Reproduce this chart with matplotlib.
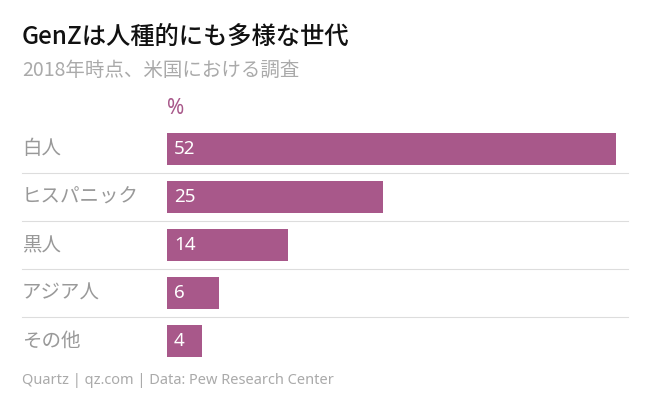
import matplotlib.pyplot as plt
from matplotlib.lines import Line2D

plt.rcParams['font.family'] = 'Noto Sans CJK JP'

categories = ['白人', 'ヒスパニック', '黒人', 'アジア人', 'その他']
values = [52, 25, 14, 6, 4]

W, H = 645, 405
fig = plt.figure(figsize=(W / 100, H / 100), dpi=100)
ax = fig.add_axes([167 / W, 1 - 365 / H, (616 - 167) / W, 240 / H])

bar_color = '#a8588a'
ax.barh(range(len(values)), values, height=0.67, color=bar_color)
ax.set_xlim(0, 52)
ax.set_ylim(len(values) - 0.5, -0.5)
ax.axis('off')

for i, (c, v) in enumerate(zip(categories, values)):
    ax.text(0.8, i, str(v), color='white', fontsize=13.5, va='center', ha='left',
            fontfamily='Noto Sans', fontweight='medium')
    ax.text(-145 / 449 * 52, i, c, color='#999999', fontsize=14, va='center', ha='left')

# row separators
for k in range(1, len(values)):
    y = 1 - (125 + 48 * k) / H
    fig.add_artist(Line2D([22 / W, 628 / W], [y, y], color='#dddddd', lw=0.8))

fig.text(22 / W, 1 - 38 / H, 'GenZは人種的にも多様な世代', fontsize=17.5, fontweight='medium',
         va='center', ha='left', color='#111111')
fig.text(22 / W, 1 - 70 / H, '2018年時点、米国における調査', fontsize=14, va='center',
         ha='left', color='#aaaaaa')
fig.text(167 / W, 1 - 108 / H, '%', fontsize=15, va='center', ha='left', color=bar_color,
         fontfamily='Noto Sans', fontweight='medium')
fig.text(22 / W, 1 - 381 / H, 'Quartz | qz.com | Data: Pew Research Center', fontsize=10.5,
         va='center', ha='left', color='#aaaaaa', fontfamily='Noto Sans')

fig.savefig('out.png', dpi=100)
